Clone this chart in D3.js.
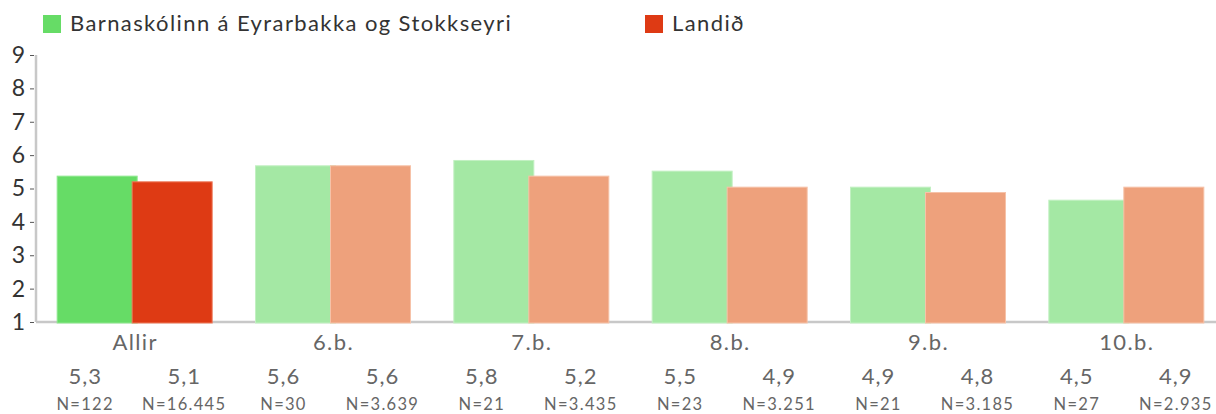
<!DOCTYPE html>
<html>
<head>
<meta charset="utf-8">
<script src="https://cdn.jsdelivr.net/npm/d3@7"></script>
<style>
  body { margin: 0; background: #fff; }
  svg { display: block; font-family: Lato, "Open Sans", sans-serif; }
</style>
</head>
<body>
<div id="chart"></div>
<script>
// categories and series
const groups = ["Allir", "6.b.", "7.b.", "8.b.", "9.b.", "10.b."];
const seriesNames = ["Barnaskólinn á Eyrarbakka og Stokkseyri", "Landið"];
// bar heights
const schoolValues = [5.37, 5.68, 5.84, 5.52, 5.04, 4.65];
const nationValues = [5.20, 5.68, 5.37, 5.04, 4.88, 5.04];
// printed labels under the axis
const schoolLabels = ["5,3", "5,6", "5,8", "5,5", "4,9", "4,5"];
const nationLabels = ["5,1", "5,6", "5,2", "4,9", "4,8", "4,9"];
const schoolN = ["N=122", "N=30", "N=21", "N=23", "N=21", "N=27"];
const nationN = ["N=16.445", "N=3.639", "N=3.435", "N=3.251", "N=3.185", "N=2.935"];
const yTicks = [1, 2, 3, 4, 5, 6, 7, 8, 9];

const W = 1216, H = 414;
const axisX = 36, baseY = 322, topY = 55;

const svg = d3.select("#chart").append("svg")
  .attr("width", W)
  .attr("height", H);

const x = d3.scaleBand()
  .domain(groups)
  .range([36, 1226])
  .padding(0);

const y = d3.scaleLinear()
  .domain([1, 9])
  .range([baseY, topY]);

// colours: first group is strong, the rest pale
const schoolColor = (i) => i === 0 ? "#66dc66" : "#a4e8a4";
const nationColor = (i) => i === 0 ? "#de3a14" : "#eea17c";
const schoolEdge = (i) => i === 0 ? "#8ee88e" : "#c2f0c2";
const nationEdge = (i) => i === 0 ? "#ee7a5a" : "#f6c2a8";

// y axis
svg.append("line")
  .attr("x1", axisX).attr("x2", axisX)
  .attr("y1", y(9)).attr("y2", baseY)
  .attr("stroke", "#c8c8c8")
  .attr("stroke-width", 2.5);

const yAxis = svg.append("g")
  .attr("transform", "translate(" + (axisX - 2) + ",0)")
  .call(d3.axisLeft(y).tickValues(yTicks).tickSize(4).tickPadding(5).tickFormat(d3.format("d")));
yAxis.select(".domain").remove();
yAxis.selectAll(".tick line").attr("stroke", "#555");
yAxis.selectAll(".tick text")
  .attr("fill", "#333")
  .style("font-size", "23px")
  .attr("font-family", "Lato, sans-serif");

// x axis baseline
svg.append("line")
  .attr("x1", axisX).attr("x2", W)
  .attr("y1", baseY).attr("y2", baseY)
  .attr("stroke", "#c8c8c8")
  .attr("stroke-width", 2.5);

const barW = 80;

// school bars
svg.selectAll(".bar-school")
  .data(schoolValues)
  .enter()
  .append("rect")
    .attr("class", "bar-school")
    .attr("x", (d, i) => x(groups[i]) + x.bandwidth() / 2 - 78)
    .attr("y", d => y(d))
    .attr("width", barW)
    .attr("height", d => baseY + 1 - y(d))
    .attr("fill", (d, i) => schoolColor(i))
    .attr("stroke", (d, i) => schoolEdge(i))
    .attr("stroke-width", 1);

// national bars
svg.selectAll(".bar-nation")
  .data(nationValues)
  .enter()
  .append("rect")
    .attr("class", "bar-nation")
    .attr("x", (d, i) => x(groups[i]) + x.bandwidth() / 2 - 3)
    .attr("y", d => y(d))
    .attr("width", barW)
    .attr("height", d => baseY + 1 - y(d))
    .attr("fill", (d, i) => nationColor(i))
    .attr("stroke", (d, i) => nationEdge(i))
    .attr("stroke-width", 1);

// category labels
svg.selectAll(".cat")
  .data(groups)
  .enter()
  .append("text")
    .attr("class", "cat")
    .attr("x", d => x(d) + x.bandwidth() / 2)
    .attr("y", 350)
    .attr("text-anchor", "middle")
    .attr("fill", "#666")
    .style("font-size", "22px")
    .style("letter-spacing", "1.4px")
    .text(d => d);

// mean labels and N
const under = [
  {labels: schoolLabels, ns: schoolN, dx: -50},
  {labels: nationLabels, ns: nationN, dx: 49}
];
under.forEach(function(s) {
  svg.selectAll(null)
    .data(s.labels)
    .enter()
    .append("text")
      .attr("x", (d, i) => x(groups[i]) + x.bandwidth() / 2 + s.dx)
      .attr("y", 384)
      .attr("text-anchor", "middle")
      .attr("fill", "#666")
      .style("font-size", "22px")
      .style("letter-spacing", "1px")
      .text(d => d);
  svg.selectAll(null)
    .data(s.ns)
    .enter()
    .append("text")
      .attr("x", (d, i) => x(groups[i]) + x.bandwidth() / 2 + s.dx)
      .attr("y", 410)
      .attr("text-anchor", "middle")
      .attr("fill", "#666")
      .style("font-size", "16.5px")
      .style("letter-spacing", "1.3px")
      .text(d => d);
});

// legend
const legendX = [43, 645];
const legendColors = ["#66dc66", "#de3a14"];
const legend = svg.selectAll(".legend")
  .data(seriesNames)
  .enter()
  .append("g")
    .attr("class", "legend")
    .attr("transform", (d, i) => "translate(" + legendX[i] + ",0)");
legend.append("rect")
  .attr("x", 0).attr("y", 15)
  .attr("width", 18).attr("height", 18)
  .attr("fill", (d, i) => legendColors[i]);
legend.append("text")
  .attr("x", 27)
  .attr("y", 31)
  .attr("fill", "#333")
  .style("font-size", "22px")
  .style("letter-spacing", "1.4px")
  .text(d => d);
</script>
</body>
</html>
